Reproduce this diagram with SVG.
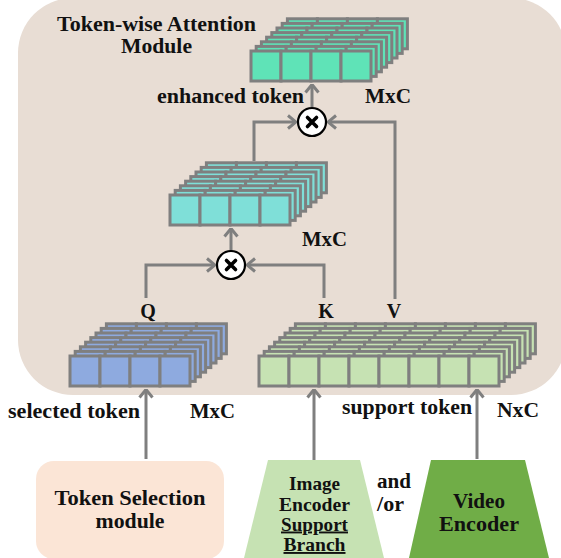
<svg xmlns="http://www.w3.org/2000/svg" xmlns:xlink="http://www.w3.org/1999/xlink" width="561" height="558" viewBox="0 0 561 558" font-family="Liberation Serif, DejaVu Serif, serif" font-weight="bold">
<style>
text{fill:#111;}
.t20{font-size:20px;}
.t19{font-size:19px;}
.t21{font-size:21px;}
.mid{text-anchor:middle;}
.conn{fill:none;stroke:#7f7f7f;stroke-width:3;}
</style>
<defs>
<g id="L4" stroke="#7f7f7f" stroke-width="3">
<rect x="0" y="0" width="30" height="30"/><rect x="30" y="0" width="30" height="30"/><rect x="60" y="0" width="30" height="30"/><rect x="90" y="0" width="30" height="30"/>
</g>
<g id="L8"><use xlink:href="#L4"/><use xlink:href="#L4" x="120"/></g>
<marker id="ah" viewBox="0 0 10 16" refX="9" refY="8" markerWidth="10" markerHeight="16" orient="auto" markerUnits="userSpaceOnUse">
<path d="M1,1.5 L9,8 L1,14.5" fill="none" stroke="#7f7f7f" stroke-width="3"/>
</marker>
<g id="mul"><circle r="14" fill="#fff" stroke="#000" stroke-width="2.2"/><path d="M-4.5,-4.5 L4.5,4.5 M-4.5,4.5 L4.5,-4.5" stroke="#000" stroke-width="3.6" stroke-linecap="round"/></g>
</defs>

<rect id="module-bg" x="18" y="-2" width="548" height="397" rx="55" fill="#e8ddd4"/>

<g id="title">
<text class="t20 mid" x="156.5" y="31" textLength="199" lengthAdjust="spacingAndGlyphs">Token-wise Attention</text>
<text class="t20 mid" x="156.5" y="53" textLength="71" lengthAdjust="spacingAndGlyphs">Module</text>
</g>

<g id="enhanced-token" fill="#5fe3b7">
<use xlink:href="#L4" x="287.4" y="18.8"/><use xlink:href="#L4" x="282.2" y="23.4"/><use xlink:href="#L4" x="277" y="28"/><use xlink:href="#L4" x="271.8" y="32.6"/><use xlink:href="#L4" x="266.6" y="37.2"/><use xlink:href="#L4" x="261.4" y="41.8"/><use xlink:href="#L4" x="256.2" y="46.4"/><use xlink:href="#L4" x="251" y="51"/>
<text class="t20" x="157" y="102.5" textLength="147" lengthAdjust="spacingAndGlyphs">enhanced token</text>
<text class="t20" x="365" y="102.5" textLength="46" lengthAdjust="spacingAndGlyphs">MxC</text>
</g>

<g id="attention-map" fill="#7fdfd8">
<use xlink:href="#L4" x="206.4" y="162.8"/><use xlink:href="#L4" x="201.2" y="167.4"/><use xlink:href="#L4" x="196" y="172"/><use xlink:href="#L4" x="190.8" y="176.6"/><use xlink:href="#L4" x="185.6" y="181.2"/><use xlink:href="#L4" x="180.4" y="185.8"/><use xlink:href="#L4" x="175.2" y="190.4"/><use xlink:href="#L4" x="170" y="195"/>
<text class="t20" x="302" y="246" textLength="45" lengthAdjust="spacingAndGlyphs">MxC</text>
</g>

<g id="selected-token" fill="#8eaadf">
<use xlink:href="#L4" x="106.4" y="323.8"/><use xlink:href="#L4" x="101.2" y="328.4"/><use xlink:href="#L4" x="96" y="333"/><use xlink:href="#L4" x="90.8" y="337.6"/><use xlink:href="#L4" x="85.6" y="342.2"/><use xlink:href="#L4" x="80.4" y="346.8"/><use xlink:href="#L4" x="75.2" y="351.4"/><use xlink:href="#L4" x="70" y="356"/>
<text class="t20 mid" x="148" y="318">Q</text>
<text class="t20" x="8" y="417.5" textLength="132" lengthAdjust="spacingAndGlyphs">selected token</text>
<text class="t20" x="190" y="417.5" textLength="45" lengthAdjust="spacingAndGlyphs">MxC</text>
</g>

<g id="support-token" fill="#c6e2b3">
<use xlink:href="#L8" x="295.4" y="323.8"/><use xlink:href="#L8" x="290.2" y="328.4"/><use xlink:href="#L8" x="285" y="333"/><use xlink:href="#L8" x="279.8" y="337.6"/><use xlink:href="#L8" x="274.6" y="342.2"/><use xlink:href="#L8" x="269.4" y="346.8"/><use xlink:href="#L8" x="264.2" y="351.4"/><use xlink:href="#L8" x="259" y="356"/>
<text class="t20 mid" x="326" y="318">K</text>
<text class="t20 mid" x="394" y="318">V</text>
<text class="t20" x="342" y="414" textLength="130" lengthAdjust="spacingAndGlyphs">support token</text>
<text class="t20" x="497" y="417" textLength="42" lengthAdjust="spacingAndGlyphs">NxC</text>
</g>

<g id="connectors" class="conn">
<path d="M254,161 V122 H296" marker-end="url(#ah)"/>
<path d="M395,299 V122 H328" marker-end="url(#ah)"/>
<path d="M312,107 V84.5" marker-end="url(#ah)"/>
<path d="M146,298 V265 H215" marker-end="url(#ah)"/>
<path d="M324,298 V265 H247" marker-end="url(#ah)"/>
<path d="M231,251 V228.5" marker-end="url(#ah)"/>
<path d="M146,459 V389.5" marker-end="url(#ah)"/>
<path d="M314,461 V389.5" marker-end="url(#ah)"/>
<path d="M477,459 V389.5" marker-end="url(#ah)"/>
</g>

<g id="mul-top"><use xlink:href="#mul" x="312" y="122"/></g>
<g id="mul-bottom"><use xlink:href="#mul" x="231" y="265"/></g>

<g id="token-selection-module">
<rect x="36" y="461" width="188" height="98" rx="18" fill="#fbe5d6"/>
<text class="t21 mid" x="130" y="505" textLength="151" lengthAdjust="spacingAndGlyphs">Token Selection</text>
<text class="t21 mid" x="130" y="528" textLength="69" lengthAdjust="spacingAndGlyphs">module</text>
</g>

<g id="image-encoder">
<polygon points="268,460 360,460 384,558 244,558" fill="#c6e2b3"/>
<text class="t19 mid" x="314.5" y="490" textLength="51" lengthAdjust="spacingAndGlyphs">Image</text>
<text class="t19 mid" x="314.5" y="510.5" textLength="71" lengthAdjust="spacingAndGlyphs">Encoder</text>
<text class="t19 mid" x="314.5" y="530.5" textLength="67" lengthAdjust="spacingAndGlyphs" text-decoration="underline">Support</text>
<text class="t19 mid" x="314.5" y="551" textLength="62" lengthAdjust="spacingAndGlyphs" text-decoration="underline">Branch</text>
</g>

<g id="and-or">
<text class="t20" x="377" y="488" textLength="34" lengthAdjust="spacingAndGlyphs">and</text>
<text class="t20" x="377" y="510.5" textLength="27" lengthAdjust="spacingAndGlyphs">/or</text>
</g>

<g id="video-encoder">
<polygon points="431,460 525,460 549,558 409,558" fill="#70ad47"/>
<text class="t21 mid" x="479" y="508" textLength="52" lengthAdjust="spacingAndGlyphs">Video</text>
<text class="t21 mid" x="479" y="531" textLength="80" lengthAdjust="spacingAndGlyphs">Encoder</text>
</g>
</svg>
